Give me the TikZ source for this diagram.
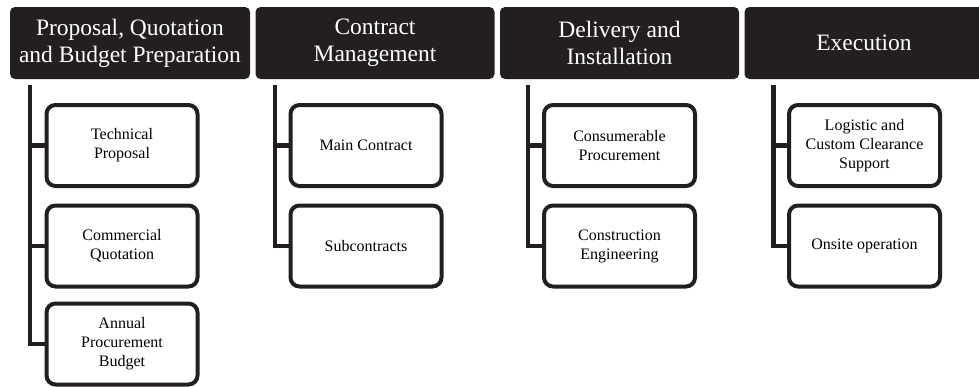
\documentclass[tikz,border=0pt]{standalone}
\usepackage{fontspec}
\setmainfont{Liberation Serif}
\usetikzlibrary{positioning}
\definecolor{Ink}{HTML}{231F20}

\begin{document}
\begin{tikzpicture}[x=1pt,y=-1pt,
    phase/.style={fill=Ink,rounded corners=5pt,text=white,inner sep=0pt,
      minimum width=239pt,minimum height=72pt,align=center,
      font=\fontsize{23.5}{27}\selectfont},
    task/.style={draw=Ink,line width=4pt,fill=white,rounded corners=9pt,inner sep=0pt,
      minimum width=151pt,minimum height=81pt,align=center,
      font=\fontsize{16}{19}\selectfont},
    trunk/.style={draw=Ink,line width=4.5pt}]
        \useasboundingbox (0,0) rectangle (979,386);

        % phase headers
        \node[phase,minimum width=240pt] (proposal) at (130,43) {Proposal, Quotation\\and Budget Preparation};
        \node[phase] (contract) at (375,43) {Contract\\Management};
        \node[phase] (delivery) at (619.5,43) {Delivery and\\Installation};
        \node[phase] (execution) at (864,43) {Execution};

        % tasks
        \node[task] (techprop) at (122,145.5) {Technical\\Proposal};
        \node[task] (commquot) at (122,246) {Commercial\\Quotation};
        \node[task] (annbudget) at (122,344) {Annual\\Procurement\\Budget};
        \node[task] (maincontract) at (366,145.5) {Main Contract};
        \node[task] (subcontracts) at (366,246) {Subcontracts};
        \node[task] (consumables) at (619.5,145.5) {Consumerable\\Procurement};
        \node[task] (construction) at (619.5,246) {Construction\\Engineering};
        \node[task] (logistic) at (864.5,145.5) {Logistic and\\Custom Clearance\\Support};
        \node[task] (onsite) at (864.5,246) {Onsite operation};

        % trunk tops, just under the headers
        \coordinate (proposaltop) at (30,85);
        \coordinate (contracttop) at (275,85);
        \coordinate (deliverytop) at (528,85);
        \coordinate (executiontop) at (773.5,85);

        % connectors
        \draw[trunk] (proposaltop) |- (annbudget.west);
        \draw[trunk] (proposaltop |- techprop.west) -- (techprop.west);
        \draw[trunk] (proposaltop |- commquot.west) -- (commquot.west);
        \draw[trunk] (contracttop) |- (subcontracts.west);
        \draw[trunk] (contracttop |- maincontract.west) -- (maincontract.west);
        \draw[trunk] (deliverytop) |- (construction.west);
        \draw[trunk] (deliverytop |- consumables.west) -- (consumables.west);
        \draw[trunk] (executiontop) |- (onsite.west);
        \draw[trunk] (executiontop |- logistic.west) -- (logistic.west);
\end{tikzpicture}
\end{document}
